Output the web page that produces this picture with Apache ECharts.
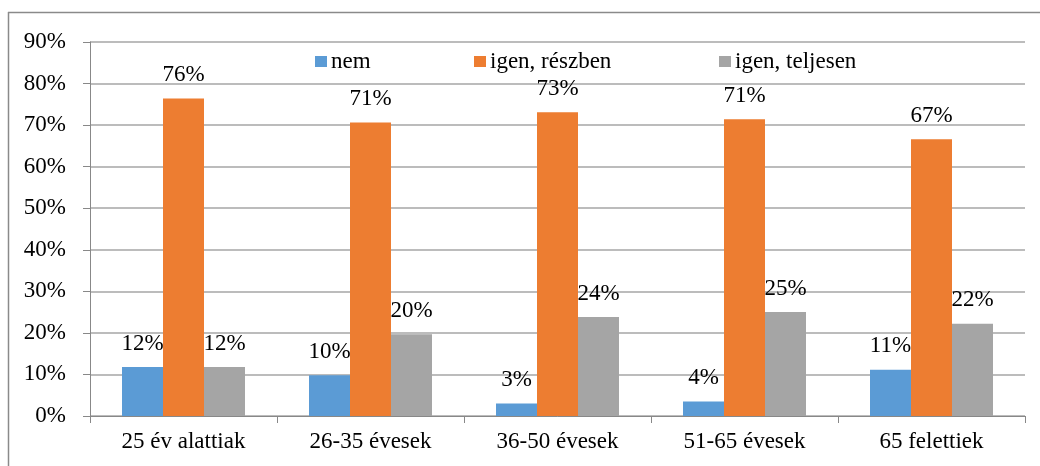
<!DOCTYPE html>
<html><head><meta charset="utf-8">
<script src="https://cdn.jsdelivr.net/npm/echarts@6/dist/echarts.min.js"></script>
<style>html,body{margin:0;padding:0;background:#fff}#c{width:1040px;height:466px}</style>
</head><body><div id="c"></div>
<script>
const categories = ['25 év alattiak', '26-35 évesek', '36-50 évesek', '51-65 évesek', '65 felettiek'];
const seriesNames = ['nem', 'igen, részben', 'igen, teljesen'];
const nem = [11.8, 9.8, 3.0, 3.5, 11.1];
const reszben = [76.4, 70.6, 73.1, 71.4, 66.6];
const teljesen = [11.8, 19.7, 23.8, 25.0, 22.2];
const yTicks = [0, 10, 20, 30, 40, 50, 60, 70, 80, 90];
const colors = ['#5B9BD5', '#ED7D31', '#A5A5A5'];

const font = 'Liberation Serif';
const fs = 23;
const legendLefts = [310, 469, 714];
const chart = echarts.init(document.getElementById('c'), null, {renderer: 'canvas'});
const mk = (name, data, i) => ({
  name, type: 'bar', data, barWidth: 41, barGap: '0%',
  itemStyle: {color: colors[i]},
  label: {show: true, position: 'top', distance: 12, color: '#000', fontFamily: font, fontSize: fs,
    formatter: p => Math.round(p.value) + '%'}
});
chart.setOption({
  animation: false,
  textStyle: {fontFamily: font},
  grid: {left: 90, right: 15, top: 42, bottom: 50, containLabel: false},
  legend: seriesNames.map((n, i) => ({
    top: 45, left: legendLefts[i], itemWidth: 12, itemHeight: 11, icon: 'rect',
    textStyle: {fontFamily: font, fontSize: fs, color: '#000', padding: [0, 0, 0, -1]},
    data: [n]
  })),
  xAxis: {
    type: 'category', data: categories,
    axisLine: {lineStyle: {color: '#888', width: 1}},
    axisTick: {show: true, length: 7, lineStyle: {color: '#888'}},
    axisLabel: {fontFamily: font, fontSize: fs, color: '#000', margin: 14}
  },
  yAxis: {
    type: 'value', min: yTicks[0], max: yTicks[yTicks.length - 1], interval: 10,
    axisLine: {show: true, lineStyle: {color: '#888'}},
    axisTick: {show: true, length: 7, lineStyle: {color: '#888'}},
    splitLine: {lineStyle: {color: '#a6a6a6', width: 1.5}},
    axisLabel: {fontFamily: font, fontSize: fs, color: '#000', margin: 24, formatter: v => v + '%'}
  },
  graphic: [
    {type: 'line', shape: {x1: 8, y1: 12.5, x2: 1040, y2: 12.5}, style: {stroke: '#8a8a8a', lineWidth: 1.5}},
    {type: 'line', shape: {x1: 8.5, y1: 12, x2: 8.5, y2: 466}, style: {stroke: '#8a8a8a', lineWidth: 1.5}}
  ],
  series: [mk(seriesNames[0], nem, 0), mk(seriesNames[1], reszben, 1), mk(seriesNames[2], teljesen, 2)]
});
</script></body></html>
